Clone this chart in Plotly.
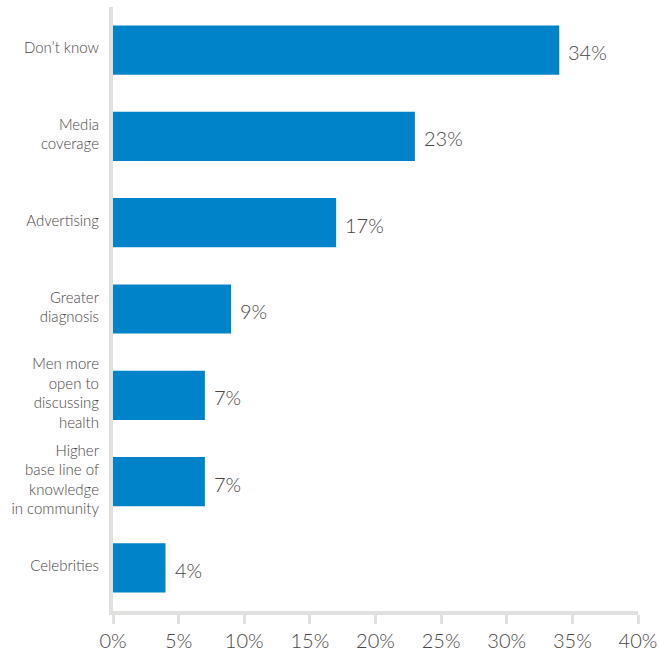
import plotly.graph_objects as go

categories = ["Don’t know", "Media<br>coverage", "Advertising", "Greater<br>diagnosis",
              "Men more<br>open to<br>discussing<br>health",
              "Higher<br>base line of<br>knowledge<br>in community", "Celebrities"]
values = [34, 23, 17, 9, 7, 7, 4]
tick_vals = [0, 5, 10, 15, 20, 25, 30, 35, 40]
tick_text = ["0%", "5%", "10%", "15%", "20%", "25%", "30%", "35%", "40%"]

BAR = "#0083C8"
AXIS = "#E1E0DF"
TXT = "#4A4644"
FONT = "Lato, 'Open Sans', sans-serif"

fig = go.Figure()
fig.add_trace(go.Bar(
    x=values, y=categories, orientation="h",
    marker=dict(color=BAR, line=dict(width=0)),
    width=0.57, hoverinfo="skip",
))
for c, v in zip(categories, values):
    fig.add_annotation(x=v, y=c, text=f"{v}%", showarrow=False, xanchor="left",
                       xshift=7, yshift=-2,
                       font=dict(family=FONT, size=20, color=TXT, weight=300))

fig.update_layout(
    width=659, height=650,
    margin=dict(l=113, r=21, t=7, b=39, pad=0, autoexpand=False),
    paper_bgcolor="white", plot_bgcolor="white",
    showlegend=False,
    font=dict(family=FONT, color=TXT),
    xaxis=dict(range=[0, 40], tickvals=tick_vals, ticktext=tick_text,
               showgrid=False, zeroline=False, automargin=False,
               showline=True, linecolor=AXIS, linewidth=4,
               ticks="outside", ticklen=9, tickwidth=3, tickcolor=AXIS,
               tickfont=dict(family=FONT, size=20, color=TXT, weight=300)),
    yaxis=dict(categoryorder="array", categoryarray=categories, autorange="reversed",
               showgrid=False, zeroline=False, automargin=False,
               showline=True, linecolor=AXIS, linewidth=4,
               ticks="", ticklabelstandoff=7, ticklabelshift=2,
               tickfont=dict(family=FONT, size=15, color=TXT, weight=300)),
)
fig.write_html("out.html", config={"displayModeBar": False},
               post_script="document.body.style.margin='0';document.body.style.overflow='hidden';")
